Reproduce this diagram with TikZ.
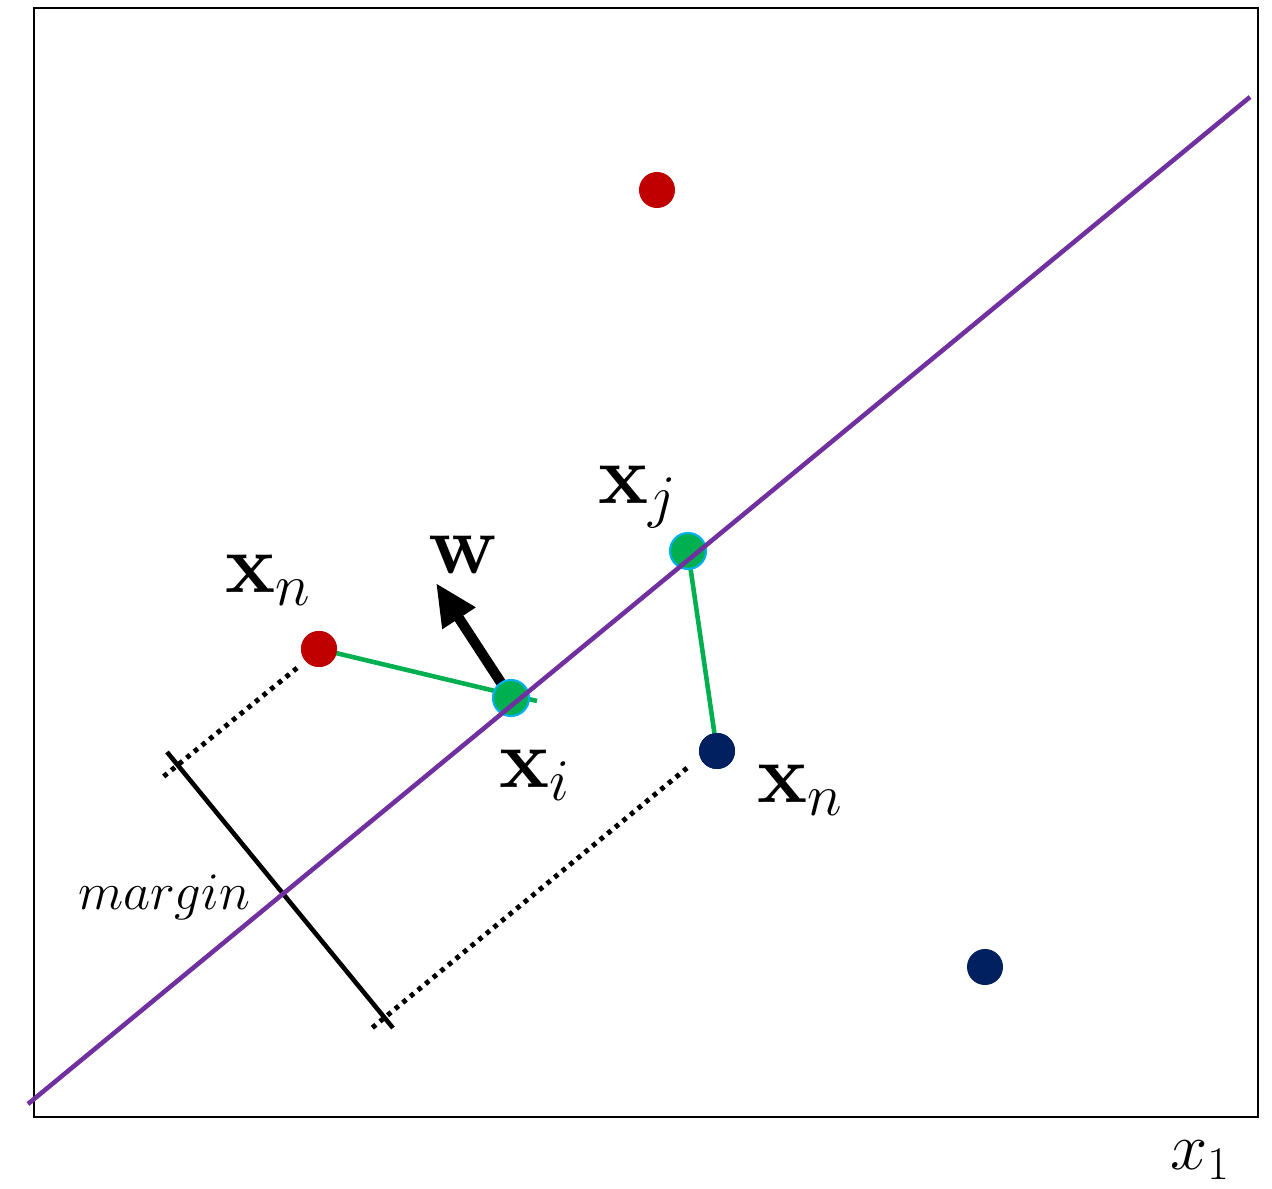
\documentclass[tikz,border=0pt]{standalone}
\usepackage{fix-cm}
\usepackage{amsmath}
\usepackage{tikz}
\usetikzlibrary{arrows.meta}
\usepackage{xcolor}
\definecolor{hypPurple}{HTML}{7030A0}
\definecolor{posRed}{HTML}{C00000}
\definecolor{negNavy}{HTML}{002060}
\definecolor{svGreen}{HTML}{00B050}
\definecolor{svCyan}{HTML}{00B0F0}

\tikzset{
  datapt/.style={circle, inner sep=0pt, minimum size=20.5pt},
  suppvec/.style={circle, inner sep=0pt, minimum size=20.5pt, fill=svGreen, draw=svCyan, line width=1.2pt},
  biglabel/.style={font=\fontsize{48}{56}\selectfont},
  projline/.style={svGreen, line width=2.6pt},
  marginend/.style={line width=2.8pt, dash pattern=on 2.6pt off 3pt},
}

\begin{document}
\begin{tikzpicture}[x=0.02cm, y=-0.02cm]
    \useasboundingbox (0,0) rectangle (1272,1189);

    % Frame
    \draw[line width=1.1pt] (34,8) rectangle (1258,1117);

    % Margin
    \coordinate (mtop) at (167,752);
    \coordinate (mbot) at (393,1028);
    \coordinate (dtopA) at (297,668);
    \coordinate (dtopB) at (163,777);
    \coordinate (dbotA) at (687,768);
    \coordinate (dbotB) at (372,1028);
    \draw[line width=2.6pt] (mtop) -- (mbot);
    \draw[marginend] (dtopA) -- (dtopB);
    \draw[marginend] (dbotA) -- (dbotB);
    \node[font=\fontsize{30}{36}\selectfont] (mlabel) at (164,897) {$margin$};

    % Weight vector
    \coordinate (wtip) at (436,583);
    \draw[line width=5.8pt, -{Triangle[length=24pt, width=21pt]}] (511,698) -- (wtip);

    % Points
    \node[datapt, fill=posRed] (pa) at (657,190) {};
    \node[datapt, fill=posRed] (pb) at (319,649) {};
    \node[datapt, fill=negNavy] (na) at (717,751) {};
    \node[datapt, fill=negNavy] (nb) at (985,967) {};

    % Projections
    \coordinate (xiend) at (537,701);
    \draw[projline] (pb.center) -- (xiend);
    \draw[projline] (688,551) -- (na.center);
    \node[datapt, fill=posRed] at (pb) {};
    \node[datapt, fill=negNavy] at (na) {};
    \node[suppvec] (xi) at (511,698) {};
    \node[suppvec] (xj) at (688,551) {};

    % Hyperplane
    \coordinate (hstart) at (28,1104);
    \coordinate (hend) at (1250,97);
    \draw[hypPurple, line width=2.6pt] (hstart) -- (hend);

    % Labels
    \node[biglabel] (lxn) at (268,580) {$\mathbf{x}_n$};
    \node[biglabel] (lw) at (463,555) {$\mathbf{w}$};
    \node[biglabel] (lxj) at (638,497) {$\mathbf{x}_j$};
    \node[biglabel] (lxi) at (535,775) {$\mathbf{x}_i$};
    \node[biglabel] (lxm) at (800,790) {$\mathbf{x}_n$};
    \node[font=\fontsize{38}{44}\selectfont] (lx1) at (1200,1160) {$x_1$};
\end{tikzpicture}
\end{document}
